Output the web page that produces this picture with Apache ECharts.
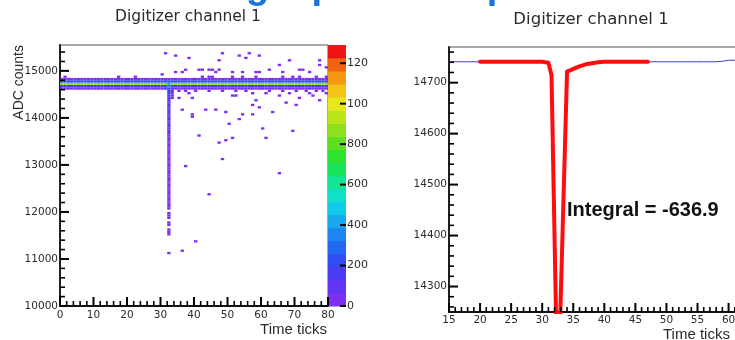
<!DOCTYPE html>
<html>
<head>
<meta charset="utf-8">
<script src="https://cdn.jsdelivr.net/npm/echarts@6.0.0/dist/echarts.min.js"></script>
<style>
  html, body { margin: 0; background: #fff; }
  #chart { width: 735px; height: 340px; }
</style>
</head>
<body>
<div id="chart"></div>
<script>
// ---- left panel: 2D histogram, ADC counts vs time tick (ROOT "colz") ----
const timeBinWidth = 1;
const adcBinWidth = 50;
const zMax = 1290;
const nTimeBins = 80;

// baseline band, present on every time tick
const bandAdc = [14600, 14650, 14700, 14750, 14800];
const bandCounts = [10, 170, 880, 230, 40];

// the pulse column at time tick 32
const spikeTick = 32;
const spikeAdc = [14700, 14650, 14600, 14550, 14500, 14450, 14400, 14350, 14300, 14250,
  14200, 14150, 14100, 14050, 14000, 13950, 13900, 13850, 13800, 13750,
  13700, 13650, 13600, 13550, 13500, 13450, 13400, 13350, 13300, 13250,
  13200, 13150, 13100, 13050, 13000, 12950, 12900, 12850, 12800, 12750,
  12700, 12650, 12600, 12550, 12500, 12450, 12400, 12350, 12300, 12250,
  12200, 12150, 12100, 12050, 12000, 11950, 11900, 11850, 11800, 11750,
  11700, 11650, 11600, 11550, 11500, 11100];
const spikeCounts = [450, 330, 250, 200, 170, 150, 130, 115, 100, 95,
  90, 85, 80, 76, 72, 70, 69, 68, 67, 66,
  66, 65, 64, 62, 60, 58, 56, 55, 54, 52,
  50, 48, 46, 45, 44, 42, 40, 38, 36, 34,
  30, 28, 25, 22, 20, 16, 14, 12, 10, 9,
  8, 6, 5, 5, 0, 4, 3, 3, 0, 2,
  2, 0, 2, 2, 2, 1];

// shoulders next to the pulse column
const shoulderTicks = [31, 31, 33, 33, 33, 33, 33, 33, 34, 35];
const shoulderAdc = [14650, 14600, 14650, 14600, 14550, 14500, 14450, 14400, 14600, 14600];
const shoulderCounts = [200, 70, 160, 110, 80, 60, 35, 15, 60, 40];

// isolated low-count bins
const sparseTicks = [1, 17, 22, 30, 31, 34, 34, 36, 37, 38, 41, 42, 44, 45, 46, 47, 47, 48,
  51, 53, 54, 55, 56, 58, 59, 59, 62, 65, 66, 68, 71, 72, 74, 76, 77, 77, 79, 79,
  42, 44, 45, 51, 54, 58, 66, 69, 71, 76,
  35, 37, 40, 44, 48, 52, 55, 62, 66, 70, 73, 76, 78,
  35, 36, 37, 38, 39, 39, 39, 36, 40, 41, 43, 44, 46, 47, 48, 49, 49, 50, 51, 51,
  52, 53, 54, 57, 57, 57, 58, 59, 60, 61, 61, 63, 65, 65, 67, 68, 69, 70, 71, 74,
  75, 77, 79];
const sparseAdc = [14850, 14850, 14850, 14900, 15350, 15300, 14950, 14950, 15000, 15250, 15000, 15000, 15000, 15000, 14950, 15200, 15000, 15350,
  14950, 15300, 14950, 15250, 15350, 14950, 15300, 14950, 15000, 15100, 14950, 15200, 15000, 15000, 14950, 14850, 15200, 15100, 15050, 14850,
  14850, 14850, 14850, 14850, 14850, 14850, 14850, 14850, 14850, 14850,
  14550, 14550, 14550, 14550, 14550, 14550, 14550, 14550, 14550, 14550, 14550, 14550, 14550,
  14400, 14150, 12950, 14500, 14400, 14050, 14000, 11150, 11350, 13600, 14150, 12350, 14150, 13450, 13100, 14100, 13500, 13850, 14450, 13550,
  14450, 13950, 14050, 14500, 14250, 14050, 14350, 14200, 13750, 14500, 13550, 14100, 14450, 12800, 14300, 14500, 13700, 14250, 14400, 14500,
  14450, 14350, 14500];
const sparseCount = 4;

// 20 contour colours of the palette, bottom to top
const palette = ['#7f2ff0', '#6233f2', '#4a3cf5', '#2f4cf5', '#2266f2', '#1d86f0', '#18a8ee',
  '#12cbe8', '#10e0c8', '#12e690', '#18e45a', '#2ee230', '#5ee020', '#8ee01c', '#bde41a',
  '#e8e818', '#f5c414', '#f59812', '#f2620f', '#f01515'];

// ---- right panel: single waveform, integration window in red ----
const waveTimes = [15, 16, 17, 18, 19, 20, 21, 22, 23, 24, 25, 26, 27, 28, 29, 30, 31,
  31.5, 32.5, 34, 34.5, 35, 36, 37, 38, 39, 40, 41, 42, 43, 44, 45, 46, 47, 48, 49,
  50, 51, 52, 53, 54, 55, 56, 57, 58, 59, 60, 61, 62];
const waveAdc = [14741, 14741, 14741, 14741, 14741, 14741, 14741, 14741, 14741, 14741,
  14741, 14741, 14741, 14741, 14741, 14741, 14739,
  14715, 14065, 14722, 14724, 14727, 14732, 14736, 14738, 14740, 14741, 14741, 14741,
  14741, 14741, 14741, 14741, 14741, 14741, 14741, 14741, 14741, 14741, 14741, 14741,
  14741, 14741, 14741, 14741, 14742, 14744, 14744, 14744];
const integralWindow = [20, 47];
const integralLabel = 'Integral = -636.9';

// axis ranges and major tick values
const leftTimeRange = [0, 80];
const leftAdcRange = [10000, 15550];
const rightTimeRange = [15, 62];
const rightAdcRange = [14250, 14770];
const leftTimeMajor = [0, 10, 20, 30, 40, 50, 60, 70, 80];
const leftAdcMajor = [10000, 11000, 12000, 13000, 14000, 15000];
const rightTimeMajor = [15, 20, 25, 30, 35, 40, 45, 50, 55, 60];
const rightAdcMajor = [14300, 14400, 14500, 14600, 14700];
const colorbarMajor = [0, 200, 400, 600, 800, 1000, 1200];

// build histogram bins
const bins = new Map();
const key = (t, a) => t + '|' + a;
for (let t = 0; t < nTimeBins; t++) {
  bandAdc.forEach((a, i) => bins.set(key(t, a), [t, a, bandCounts[i]]));
}
spikeAdc.forEach((a, i) => bins.set(key(spikeTick, a), [spikeTick, a, spikeCounts[i]]));
shoulderTicks.forEach((t, i) => bins.set(key(t, shoulderAdc[i]), [t, shoulderAdc[i], shoulderCounts[i]]));
sparseTicks.forEach((t, i) => {
  const k = key(t, sparseAdc[i]);
  if (!bins.has(k)) bins.set(k, [t, sparseAdc[i], sparseCount]);
});
const histData = Array.from(bins.values()).filter(d => d[2] > 0);

const colorOf = n => palette[Math.min(palette.length - 1, Math.floor(n / zMax * palette.length))];

const colorbarData = palette.map((c, i) => [0, i * zMax / palette.length, (i + 1) * zMax / palette.length]);

const waveData = waveTimes.map((t, i) => [t, waveAdc[i]]);
const redData = waveData.filter(d => d[0] >= integralWindow[0] && d[0] <= integralWindow[1]);

// major + minor tick values (ROOT style: 5 minor divisions), clipped to the range
function tickValues(major, divisions, range) {
  const step = (major[1] - major[0]) / divisions;
  const out = [];
  let v = major[0];
  while (v - step >= range[0] - 1e-9) v -= step;
  for (; v <= range[1] + 1e-9; v += step) {
    const r = Math.round(v * 1000) / 1000;
    out.push([r, major.some(m => Math.abs(m - r) < 1e-6) ? 1 : 0]);
  }
  return out;
}

// tick marks drawn inside the frame through the axes' own coordinates
function tickSeries(gridAxis, xTicks, yTicks, xAt, yAt, dirX, dirY, majorLen, minorLen) {
  const data = [];
  xTicks.forEach(([v, m]) => data.push([v, yAt, m, 0]));
  yTicks.forEach(([v, m]) => data.push([xAt, v, m, 1]));
  return {
    type: 'custom',
    xAxisIndex: gridAxis, yAxisIndex: gridAxis,
    data: data,
    encode: { x: 0, y: 1 },
    clip: false,
    silent: true,
    z: 5,
    renderItem: (params, api) => {
      const p = api.coord([api.value(0), api.value(1)]);
      const len = api.value(2) ? majorLen : minorLen;
      const vertical = api.value(3) === 0;
      return {
        type: 'line',
        shape: vertical
          ? { x1: p[0], y1: p[1], x2: p[0], y2: p[1] + dirY * len }
          : { x1: p[0], y1: p[1], x2: p[0] + dirX * len, y2: p[1] },
        style: { stroke: '#000', lineWidth: api.value(2) ? 2 : 1.6 }
      };
    }
  };
}

const plain = v => String(v);
const labelFont = { color: '#2b2b2b', fontFamily: 'DejaVu Sans', fontSize: 10.5, formatter: plain };

function frameAxis(opts, label) {
  return Object.assign({
    type: 'value',
    axisLine: { show: true, onZero: false, lineStyle: { color: '#111', width: 1.8 } },
    axisTick: { show: false },
    minorTick: { show: false },
    splitLine: { show: false },
    axisLabel: Object.assign({ margin: 3 }, labelFont, label || {})
  }, opts);
}

const chart = echarts.init(document.getElementById('chart'));
chart.setOption({
  animation: false,
  grid: [
    { left: 60, top: 45, width: 268, height: 261, show: true, borderColor: '#555', borderWidth: 1, outerBoundsMode: 'none' },
    { left: 328, top: 45, width: 18, height: 261, show: false, outerBoundsMode: 'none' },
    { left: 449, top: 47, width: 292, height: 265, show: true, borderColor: '#555', borderWidth: 1, outerBoundsMode: 'none' }
  ],
  xAxis: [
    frameAxis({ gridIndex: 0, min: leftTimeRange[0], max: leftTimeRange[1], interval: 10 }, { margin: 4 }),
    { gridIndex: 1, type: 'value', min: 0, max: 1, show: false },
    frameAxis({ gridIndex: 2, min: rightTimeRange[0], max: rightTimeRange[1], interval: 5 }, { margin: 3, showMaxLabel: false })
  ],
  yAxis: [
    frameAxis({ gridIndex: 0, min: leftAdcRange[0], max: leftAdcRange[1], interval: 1000 }, { margin: 2, showMaxLabel: false }),
    {
      gridIndex: 1, type: 'value', position: 'right', min: 0, max: zMax, interval: 200,
      axisLine: { show: false },
      axisTick: { show: false },
      splitLine: { show: false },
      axisLabel: Object.assign({}, labelFont, {
        fontSize: 11, margin: 1, showMaxLabel: false,
        width: 22, overflow: 'truncate', ellipsis: ''
      })
    },
    frameAxis({ gridIndex: 2, min: rightAdcRange[0], max: rightAdcRange[1], splitNumber: 5 },
      { margin: 2, showMinLabel: false, showMaxLabel: false })
  ],
  series: [
    {
      type: 'custom',
      xAxisIndex: 0, yAxisIndex: 0,
      data: histData,
      encode: { x: 0, y: 1 },
      clip: true,
      silent: true,
      z: 1,
      renderItem: (params, api) => {
        const t = api.value(0), a = api.value(1);
        const p0 = api.coord([t, a + adcBinWidth]);
        const p1 = api.coord([t + timeBinWidth, a]);
        return {
          type: 'rect',
          shape: { x: p0[0], y: p0[1], width: p1[0] - p0[0], height: p1[1] - p0[1] },
          style: { fill: colorOf(api.value(2)) }
        };
      }
    },
    {
      type: 'custom',
      xAxisIndex: 1, yAxisIndex: 1,
      data: colorbarData,
      encode: { x: 0, y: [1, 2] },
      silent: true,
      z: 1,
      renderItem: (params, api) => {
        const p0 = api.coord([0, api.value(2)]);
        const p1 = api.coord([1, api.value(1)]);
        return {
          type: 'rect',
          shape: { x: p0[0], y: p0[1], width: p1[0] - p0[0], height: p1[1] - p0[1] + 0.5 },
          style: { fill: palette[params.dataIndex] }
        };
      }
    },
    {
      type: 'line',
      xAxisIndex: 2, yAxisIndex: 2,
      data: waveData,
      showSymbol: false,
      silent: true,
      lineStyle: { color: '#3b3bd0', width: 1 },
      z: 1
    },
    {
      type: 'line',
      xAxisIndex: 2, yAxisIndex: 2,
      data: redData,
      showSymbol: false,
      silent: true,
      lineStyle: { color: '#ff0d0d', width: 4, join: 'round', cap: 'round' },
      z: 1
    },
    tickSeries(0, tickValues(leftTimeMajor, 5, leftTimeRange), tickValues(leftAdcMajor, 5, leftAdcRange),
      leftTimeRange[0], leftAdcRange[0], 1, -1, 9, 5),
    tickSeries(1, [], colorbarMajor.map(v => [v, 1]), 1, 0, -1, -1, 6, 3),
    tickSeries(2, tickValues(rightTimeMajor, 5, rightTimeRange), tickValues(rightAdcMajor, 5, rightAdcRange),
      rightTimeRange[0], rightAdcRange[0], 1, -1, 9, 5)
  ],
  graphic: [
    { type: 'text', x: 187, y: -12, silent: true,
      style: { text: 'Single pulse shape', fontFamily: 'Liberation Sans', fontWeight: 'bold', fontSize: 38,
        fill: '#1a74d8', align: 'left', verticalAlign: 'middle' } },
    { type: 'text', x: 188, y: 17, silent: true,
      style: { text: 'Digitizer channel 1', fontFamily: 'DejaVu Sans', fontSize: 15.5,
        fill: '#2a2a2a', align: 'center', verticalAlign: 'middle' } },
    { type: 'text', x: 591, y: 20, silent: true,
      style: { text: 'Digitizer channel 1', fontFamily: 'DejaVu Sans', fontSize: 16.5,
        fill: '#2a2a2a', align: 'center', verticalAlign: 'middle' } },
    { type: 'text', x: 19, y: 45, rotation: Math.PI / 2, silent: true,
      style: { text: 'ADC counts', fontFamily: 'Liberation Sans', fontSize: 14,
        fill: '#2a2a2a', align: 'right', verticalAlign: 'middle' } },
    { type: 'text', x: 327, y: 330, silent: true,
      style: { text: 'Time ticks', fontFamily: 'Liberation Sans', fontSize: 15,
        fill: '#2a2a2a', align: 'right', verticalAlign: 'middle' } },
    { type: 'text', x: 663, y: 335, silent: true,
      style: { text: 'Time ticks', fontFamily: 'Liberation Sans', fontSize: 15,
        fill: '#2a2a2a', align: 'left', verticalAlign: 'middle' } },
    { type: 'text', x: 567, y: 210, silent: true,
      style: { text: integralLabel, fontFamily: 'Liberation Sans', fontWeight: 'bold', fontSize: 20,
        fill: '#111', align: 'left', verticalAlign: 'middle' } }
  ]
});
</script>
</body>
</html>
